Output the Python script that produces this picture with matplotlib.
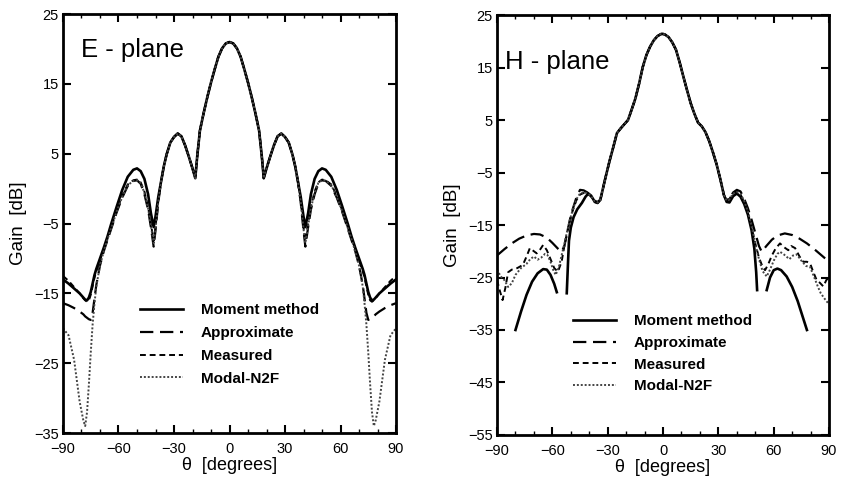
import numpy as np
import matplotlib
matplotlib.use("Agg")
import matplotlib.pyplot as plt
from matplotlib.ticker import MultipleLocator

plt.rcParams['font.family'] = ['Liberation Sans', 'DejaVu Sans']

# ---------------- E-plane data ----------------
# outer angles (-90 .. -38.5), differ per curve; mirrored for the right side
e_outer_th = [-90, -87, -84, -81, -79, -78, -77, -76, -75, -74, -73, -72, -70, -68,
              -66, -64, -61, -58, -55, -52, -50, -48, -46, -44, -42.5, -41, -40, -38.5]
e_moment_outer = [-13.0, -13.6, -14.3, -15.0, -15.6, -15.9, -16.0, -15.6, -14.8, -13.6,
                  -12.4, -11.5, -10.0, -8.5, -6.9, -5.1, -2.6, -0.2, 1.7, 2.7, 2.9, 2.5,
                  1.4, -0.8, -3.5, -5.5, -4.0, -1.2]
e_approx_outer = [-16.4, -16.7, -17.1, -17.6, -18.0, -18.3, -18.5, -18.7, -18.8, -17.8,
                  -15.8, -13.8, -11.0, -9.0, -7.4, -5.8, -3.4, -1.3, 0.4, 1.1, 1.2, 0.7,
                  -0.8, -3.0, -5.5, -8.3, -6.0, -2.0]
e_measured_outer = [-12.5, -13.2, -14.1, -15.0, -15.7, -16.0, -16.2, -16.0, -15.2, -14.0,
                    -12.8, -11.8, -10.3, -8.7, -7.2, -5.6, -3.2, -1.0, 0.6, 1.2, 1.3, 0.9,
                    -0.4, -2.6, -5.0, -7.5, -5.5, -1.8]
e_modal_outer = [-20.0, -21.0, -24.5, -30.5, -33.2, -34.0, -32.0, -28.0, -23.5, -19.5,
                 -16.5, -14.0, -11.0, -9.0, -7.3, -5.7, -3.3, -1.2, 0.5, 1.1, 1.2, 0.8,
                 -0.6, -2.8, -5.3, -7.8, -5.8, -1.9]
# main beam and first sidelobes, common to all four curves
e_core_th = [-37, -35.5, -34, -32, -30, -28, -26, -24, -22, -20, -18.5, -17.5, -16, -14,
             -12, -10, -8, -6, -4, -2, 0]
e_core = [1.0, 3.2, 4.9, 6.6, 7.4, 7.9, 7.5, 6.2, 4.6, 2.9, 1.5, 4.5, 8.3, 10.8, 13.1,
          15.2, 17.1, 18.9, 20.1, 20.8, 21.0]

# ---------------- H-plane data ----------------
h_core_th = [-34, -31.5, -29, -27, -25, -23, -21, -19, -17, -15, -13, -11, -9, -7, -5,
             -3, -1, 0, 1, 3, 5, 7, 9, 11, 13, 15, 17, 19, 21, 23, 25, 27, 29, 31, 33]
h_core = [-10.2, -6.4, -2.8, -0.2, 2.5, 3.4, 4.2, 5.0, 7.0, 9.1, 11.9, 15.1, 17.4, 19.0,
          20.2, 21.0, 21.4, 21.4, 21.3, 20.8, 19.8, 18.4, 16.0, 13.3, 10.7, 8.2, 6.2, 4.5,
          3.8, 2.7, 1.0, -1.1, -3.4, -6.2, -9.3]

h_moment_l_th = [-80, -77, -74, -71, -68, -65, -63, -61, -59, -57.6, -55,
                 -52.2, -51.5, -51, -50, -48.5, -46.5, -44, -42, -40.5, -39, -37, -35.5]
h_moment_l = [-35.0, -31.5, -28.3, -25.8, -24.2, -23.4, -23.5, -24.5, -26.2, -27.8, np.nan,
              -28.0, -22.0, -18.0, -15.5, -13.5, -12.0, -10.8, -9.6, -9.0, -9.4, -10.6, -10.8]
h_moment_r_th = [34.5, 36, 38, 40, 42, 44, 46, 48, 49.5, 50.5, 51, 53,
                 56.2, 58, 60, 62, 64, 67, 70, 73, 76, 78]
h_moment_r = [-10.6, -10.7, -9.5, -9.0, -9.6, -11.0, -13.0, -16.0, -19.5, -24.0, -27.4, np.nan,
              -27.4, -25.0, -23.6, -23.3, -23.6, -24.8, -26.8, -29.5, -32.8, -35.0]

h_approx_l_th = [-90, -86, -82, -78, -74, -70, -66.7, -63, -60, -57, -55, -53.5, -52,
                 -50.5, -49, -47, -45, -43, -41, -39, -37, -35.5]
h_approx_l = [-20.8, -19.6, -18.5, -17.6, -17.0, -16.7, -16.8, -17.4, -18.4, -19.5, -20.1,
              -19.0, -16.5, -14.0, -12.0, -9.8, -8.3, -8.4, -8.8, -9.6, -10.4, -10.6]
h_approx_r_th = [34.5, 36, 38, 40, 42, 44, 46, 48, 50, 52, 53.5, 56, 59, 62, 66, 70, 74,
                 78, 82, 86, 90]
h_approx_r = [-10.4, -10.0, -8.8, -8.3, -8.6, -10.0, -11.8, -14.0, -16.5, -19.0, -20.1,
              -19.0, -17.8, -17.0, -16.6, -16.9, -17.6, -18.5, -19.6, -20.8, -22.0]

h_meas_l_th = [-90, -88.5, -87, -85.5, -84, -82, -79, -76, -74, -72.2, -70, -68.5, -66.5,
               -65, -63, -61, -59, -57, -55, -53.5, -52, -50.5, -49, -47, -45, -43, -41,
               -39, -37, -35.5]
h_meas_l = [-25.5, -27.5, -29.3, -27.0, -24.0, -23.5, -23.2, -22.6, -21.0, -19.4, -20.0,
            -20.4, -19.6, -18.8, -19.8, -21.5, -23.2, -23.9, -22.0, -19.0, -16.5, -14.3,
            -12.3, -10.3, -9.2, -8.9, -9.0, -9.6, -10.6, -10.8]
h_meas_r_th = [34.5, 36, 38, 40, 42, 44, 46, 48, 50, 52, 54, 55.3, 57, 59, 61, 63.4, 65.5,
               67.9, 69.5, 71.6, 74, 76.1, 78, 79.7, 81.5, 83.3, 85, 86.9, 88.5, 90]
h_meas_r = [-10.2, -10.0, -8.9, -8.6, -9.2, -10.6, -12.7, -15.5, -18.5, -21.2, -23.0, -23.6,
            -22.5, -20.8, -19.5, -18.5, -19.2, -19.8, -19.0, -19.4, -21.0, -22.0, -22.0,
            -22.3, -24.0, -25.5, -26.0, -26.7, -25.5, -25.0]

h_modal_l_th = [-90, -88, -86, -84, -82, -80, -77, -74, -72, -70, -68, -66, -64, -62.7,
                -61, -59.5, -58.2, -56.5, -55, -53.5, -52, -50.5, -49, -47, -45, -43, -41,
                -39, -37, -35.5]
h_modal_l = [-23.5, -24.8, -25.5, -26.8, -26.1, -24.5, -23.2, -22.4, -21.5, -21.0, -21.6,
             -21.2, -20.5, -20.7, -22.0, -23.6, -24.5, -23.0, -20.8, -18.6, -16.2, -14.0,
             -12.1, -10.1, -9.0, -8.8, -8.9, -9.5, -10.5, -10.7]
h_modal_r_th = [34.5, 36, 38, 40, 42, 44, 46, 48, 50, 52, 54, 56.2, 58, 60, 62, 63.4, 65.5,
                68.5, 70.5, 72.5, 75, 77.5, 79.7, 82, 84, 85.5, 87.5, 89.5]
h_modal_r = [-10.3, -10.1, -9.0, -8.7, -9.1, -10.4, -12.4, -15.2, -18.5, -21.5, -23.8, -24.8,
             -23.5, -21.8, -20.5, -20.1, -20.6, -21.5, -20.8, -20.6, -21.8, -22.8, -23.0,
             -25.0, -26.8, -28.0, -29.0, -29.9]

labels = ['Moment method', 'Approximate', 'Measured', 'Modal-N2F']
styles = [dict(color='black', lw=1.9, ls='-'),
          dict(color='black', lw=1.6, ls=(0, (6, 3))),
          dict(color='black', lw=1.4, ls=(0, (3, 2))),
          dict(color='#444444', lw=1.4, ls=(0, (1, 1)))]


def mirror(th, vals):
    # build the full -90..90 curve from the left half
    th_full = list(th) + [-t for t in th[-2::-1]]
    v_full = list(vals) + list(vals[-2::-1])
    return th_full, v_full


def style_axes(ax, ymin, ymax):
    ax.set_xlim(-90, 90)
    ax.set_ylim(ymin, ymax)
    ax.xaxis.set_major_locator(MultipleLocator(30))
    ax.xaxis.set_minor_locator(MultipleLocator(10))
    ax.set_yticks(np.arange(ymax, ymin - 1, -10))
    ax.tick_params(which='major', direction='in', length=6, width=1.5,
                   top=True, right=True, labelsize=10.5)
    ax.tick_params(axis='x', which='major', pad=6.5)
    ax.tick_params(axis='y', which='major', pad=3)
    ax.tick_params(which='minor', direction='in', length=3, width=1, top=True)
    for sp in ax.spines.values():
        sp.set_linewidth(2)
    ax.set_ylabel('Gain  [dB]', fontsize=13.5, labelpad=5)
    ax.set_xlabel('θ  [degrees]', fontsize=13, labelpad=1)


fig = plt.figure(figsize=(8.41, 4.86), dpi=100)
ax1 = fig.add_axes([0.0749, 0.109, 0.396, 0.862])
ax2 = fig.add_axes([0.591, 0.105, 0.3948, 0.864])

leg_kw = dict(loc='upper left', frameon=False, prop=dict(size=11, weight='bold'),
              handlelength=2.8, handletextpad=1.2, borderpad=0, borderaxespad=0)

# E-plane
for outer, lab, st in zip([e_moment_outer, e_approx_outer, e_measured_outer, e_modal_outer],
                          labels, styles):
    th, v = mirror(e_outer_th + e_core_th, outer + e_core)
    ax1.plot(th, v, label=lab, **st)
style_axes(ax1, -35, 25)
ax1.text(-80.5, 19.8, 'E - plane', fontsize=18.5, va='center', ha='left')
ax1.legend(bbox_to_anchor=(0.231, 0.31), labelspacing=0.58, **leg_kw)

# H-plane
h_sets = [(h_moment_l_th, h_moment_l, h_moment_r_th, h_moment_r),
          (h_approx_l_th, h_approx_l, h_approx_r_th, h_approx_r),
          (h_meas_l_th, h_meas_l, h_meas_r_th, h_meas_r),
          (h_modal_l_th, h_modal_l, h_modal_r_th, h_modal_r)]
for (lt, lv, rt, rv), lab, st in zip(h_sets, labels, styles):
    th = lt + h_core_th + rt
    v = lv + h_core + rv
    ax2.plot(th, v, label=lab, **st)
style_axes(ax2, -55, 25)
ax2.text(-85.5, 16.0, 'H - plane', fontsize=18.5, va='center', ha='left')
ax2.legend(bbox_to_anchor=(0.228, 0.287), labelspacing=0.5, **leg_kw)

fig.savefig('out.png', dpi=100)
